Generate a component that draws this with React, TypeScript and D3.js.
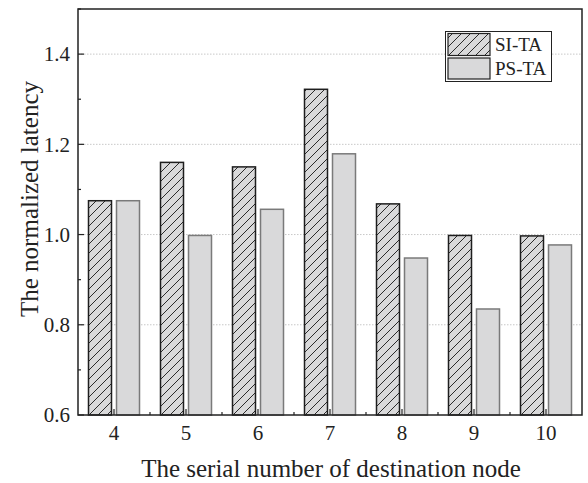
import React from "react";
import * as d3 from "d3";

const categories = ["4", "5", "6", "7", "8", "9", "10"];
const siTa = [1.075, 1.16, 1.15, 1.322, 1.068, 0.998, 0.997];
const psTa = [1.075, 0.998, 1.056, 1.179, 0.948, 0.835, 0.977];
const yTicks = [0.6, 0.8, 1.0, 1.2, 1.4];
const yMinor = [0.7, 0.9, 1.1, 1.3, 1.5];
const seriesNames = ["SI-TA", "PS-TA"];

const W = 588, H = 483;
const m = { left: 78, right: 6, top: 9, bottom: 68 };
const FONT = "'Liberation Serif', 'Times New Roman', serif";

export default function App() {
  const x = d3.scaleBand<string>().domain(categories).range([m.left, W - m.right]).padding(0);
  const y = d3.scaleLinear().domain([0.6, 1.5]).range([H - m.bottom, m.top]);
  const bw = 23;
  const gap = 2.5;
  const y0 = y(0.6);
  const fill = "#d9d9da";
  return (
    <svg width={W} height={H} style={{ position: "absolute", left: 0, top: 0 }} fontFamily={FONT}>
      <defs>
        <pattern id="hatch" patternUnits="userSpaceOnUse" width="9" height="9">
          <rect width="9" height="9" fill={fill} />
          <path d="M-2,2 l4,-4 M0,9 l9,-9 M7,11 l4,-4" stroke="#2a2a2a" strokeWidth="1" />
        </pattern>
      </defs>
      <rect x={0} y={0} width={W} height={H} fill="#fff" />
      {yTicks.slice(1).map((t) => (
        <line key={"g" + t} x1={m.left} x2={W - m.right} y1={y(t)} y2={y(t)} stroke="#c8c8c8" strokeDasharray="1.5,1.5" strokeWidth={1} />
      ))}
      {categories.map((c, i) => {
        const cx = x(c)! + x.bandwidth() / 2;
        return (
          <g key={c}>
            <rect x={cx - gap - bw} y={y(siTa[i])} width={bw} height={y0 - y(siTa[i])} fill="url(#hatch)" stroke="#1e1e1e" strokeWidth={1.5} />
            <rect x={cx + gap} y={y(psTa[i])} width={bw} height={y0 - y(psTa[i])} fill={fill} stroke="#7a7a7a" strokeWidth={1.5} />
          </g>
        );
      })}
      {/* frame */}
      <rect x={m.left} y={m.top} width={W - m.left - m.right} height={y0 - m.top} fill="none" stroke="#222" strokeWidth={1.5} />
      {/* y ticks */}
      {yTicks.map((t) => (
        <g key={"yt" + t}>
          <line x1={m.left} x2={m.left + 6} y1={y(t)} y2={y(t)} stroke="#222" strokeWidth={1.2} />
          <text x={m.left - 8} y={y(t)} dy="0.35em" textAnchor="end" fontSize={21} fill="#222">{t.toFixed(1)}</text>
        </g>
      ))}
      {yMinor.map((t) => (
        <line key={"ym" + t} x1={m.left} x2={m.left + 3} y1={y(t)} y2={y(t)} stroke="#222" strokeWidth={1.2} />
      ))}
      {/* x ticks */}
      {categories.map((c, i) => {
        const cx = x(c)! + x.bandwidth() / 2;
        return (
          <g key={"xt" + c}>
            <line x1={cx} x2={cx} y1={y0} y2={y0 - 6} stroke="#222" strokeWidth={1.2} />
            {i < categories.length - 1 && (
              <line x1={x(c)! + x.bandwidth()} x2={x(c)! + x.bandwidth()} y1={y0} y2={y0 - 3} stroke="#222" strokeWidth={1.2} />
            )}
            <text x={cx} y={y0 + 25} textAnchor="middle" fontSize={21} fill="#222">{c}</text>
          </g>
        );
      })}
      <text x={(m.left + W - m.right) / 2 + 1} y={477} textAnchor="middle" fontSize={25} fill="#222">The serial number of destination node</text>
      <text transform={`translate(38,${199}) rotate(-90)`} textAnchor="middle" fontSize={25} fill="#222">The normalized latency</text>
      {/* legend */}
      <g>
        <rect x={445.5} y={31.5} width={106} height={50} fill="#fff" stroke="#222" strokeWidth={1} />
        <rect x={448} y={33.5} width={42} height={22} fill="url(#hatch)" stroke="#222" strokeWidth={1.2} />
        <rect x={448} y={58} width={42} height={21} fill={fill} stroke="#222" strokeWidth={1.2} />
        <text x={495} y={51} fontSize={19} fill="#222">{seriesNames[0]}</text>
        <text x={495} y={75} fontSize={19} fill="#222">{seriesNames[1]}</text>
      </g>
    </svg>
  );
}
